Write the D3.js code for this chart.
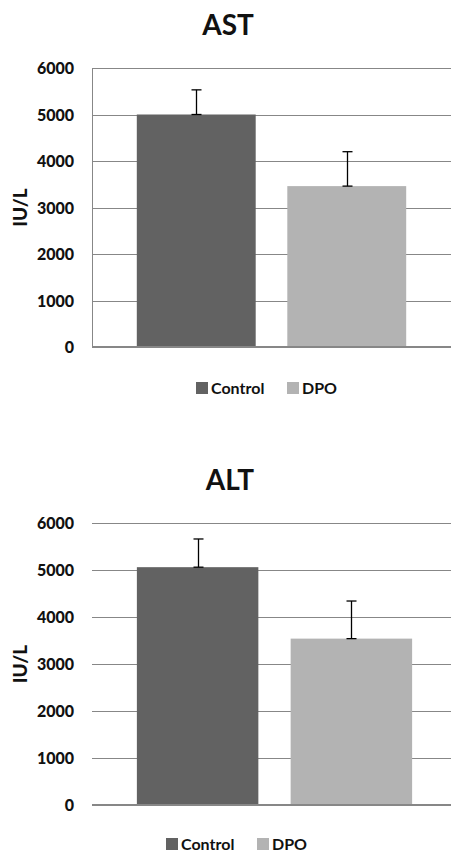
<!DOCTYPE html>
<html>
<head>
<meta charset="utf-8">
<script src="https://cdn.jsdelivr.net/npm/d3@7"></script>
<style>
  body { margin: 0; background: #fff; }
  svg { display: block; }
  text { font-family: Lato, "DejaVu Sans", sans-serif; font-weight: bold; fill: #111; }
</style>
</head>
<body>
<svg id="drawspace" width="451" height="854"></svg>
<script>
// data
const groups = ["Control", "DPO"];
const groupColors = ["#626262", "#b3b3b3"];
const yTicks = [0, 1000, 2000, 3000, 4000, 5000, 6000];

const astMeans = [5000, 3460];
const astErrors = [530, 740];

const altMeans = [5060, 3540];
const altErrors = [600, 800];

let svg = d3.select("#drawspace");

function drawChart(cfg) {
  let g = svg.append("g");

  let y = d3.scaleLinear().domain([0, 6000]).range([cfg.bottom, cfg.top]);
  let x = d3
    .scaleBand()
    .domain(groups)
    .range(cfg.xRange)
    .paddingInner(0.21)
    .paddingOuter(0.1);

  // title
  g.append("text")
    .attr("x", cfg.titleX)
    .attr("y", cfg.titleY)
    .attr("text-anchor", "middle")
    .style("font-size", "28px")
    .text(cfg.title);

  // gridlines
  g.selectAll(".grid")
    .data(yTicks.filter((d) => d > 0))
    .enter()
    .append("line")
    .attr("x1", cfg.left)
    .attr("x2", 451)
    .attr("y1", (d) => Math.round(y(d)) + 0.5)
    .attr("y2", (d) => Math.round(y(d)) + 0.5)
    .attr("stroke", "#878787")
    .attr("stroke-width", 1);

  if (cfg.border) {
    g.append("line")
      .attr("x1", cfg.left + 0.5)
      .attr("x2", cfg.left + 0.5)
      .attr("y1", Math.round(y(6000)) + 0.5)
      .attr("y2", y(0))
      .attr("stroke", "#878787");
  }

  // y axis labels via d3 axis
  let axis = g
    .append("g")
    .attr("transform", "translate(" + cfg.labelX + ",0)")
    .call(
      d3.axisLeft(y)
        .tickValues(yTicks)
        .tickFormat(d3.format("d"))
        .tickSize(0)
        .tickPadding(0)
    );
  axis.select(".domain").remove();
  axis.selectAll("text")
    .style("font-size", "16px")
    .style("font-weight", "900")
    .attr("dy", "0.35em")
    .attr("fill", "#111");

  // bars
  g.selectAll(".bar")
    .data(cfg.means)
    .enter()
    .append("rect")
    .attr("x", (d, i) => x(groups[i]))
    .attr("y", (d) => y(d))
    .attr("width", x.bandwidth())
    .attr("height", (d) => y(0) - y(d))
    .attr("fill", (d, i) => groupColors[i]);

  // zero line
  g.append("line")
    .attr("x1", cfg.left)
    .attr("x2", 451)
    .attr("y1", y(0))
    .attr("y2", y(0))
    .attr("stroke", "#878787")
    .attr("stroke-width", 2);

  // error bars (plus only, capped both ends)
  cfg.means.forEach((m, i) => {
    let cx = Math.round(x(groups[i]) + x.bandwidth() / 2) + 0.5;
    let yTop = y(m + cfg.errors[i]);
    let yBot = y(m);
    g.append("line")
      .attr("x1", cx).attr("x2", cx)
      .attr("y1", yTop).attr("y2", yBot)
      .attr("stroke", "#000").attr("stroke-width", 1.3);
    [yTop, yBot].forEach((yy) => {
      g.append("line")
        .attr("x1", cx - 5).attr("x2", cx + 5)
        .attr("y1", yy).attr("y2", yy)
        .attr("stroke", "#000").attr("stroke-width", 1.3);
    });
  });

  // y axis title
  g.append("text")
    .attr("transform", "translate(" + cfg.yTitleX + "," + (cfg.top + cfg.bottom) / 2 + ") rotate(-90)")
    .attr("text-anchor", "middle")
    .style("font-size", "19px")
    .style("font-weight", "900")
    .text("IU/L");

  // legend
  let lg = g.append("g").attr("transform", "translate(" + cfg.legendX + "," + cfg.legendY + ")");
  let offsets = [0, 91];
  groups.forEach((name, i) => {
    lg.append("rect")
      .attr("x", offsets[i])
      .attr("y", -12)
      .attr("width", 12)
      .attr("height", 12)
      .attr("fill", groupColors[i]);
    lg.append("text")
      .attr("x", offsets[i] + 15)
      .attr("y", 0)
      .style("font-size", "16px")
      .text(name);
  });
}

drawChart({
  title: "AST", titleX: 228, titleY: 35,
  top: 68, bottom: 347, left: 92, labelX: 74,
  xRange: [121.75, 421.25], border: true,
  means: astMeans, errors: astErrors,
  yTitleX: 27, legendX: 196, legendY: 394
});

drawChart({
  title: "ALT", titleX: 230, titleY: 490,
  top: 523, bottom: 805, left: 92, labelX: 74,
  xRange: [121.5, 427.5], border: false,
  means: altMeans, errors: altErrors,
  yTitleX: 27, legendX: 166, legendY: 850
});
</script>
</body>
</html>
